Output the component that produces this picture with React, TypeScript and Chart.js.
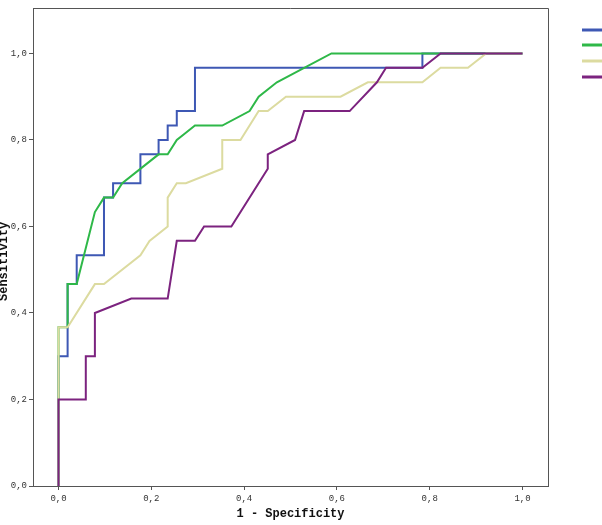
import React, { useEffect, useRef } from "react";
import { Chart, registerables } from "chart.js";

Chart.register(...registerables);

const xTicks = [0, 0.2, 0.4, 0.6, 0.8, 1.0];
const yTicks = [0, 0.2, 0.4, 0.6, 0.8, 1.0];

const seriesNames = ["Marker 1", "Marker 2", "Marker 3", "Marker 4"];
const seriesColors = ["#3e58b4", "#2eb848", "#dcdba0", "#7c237f"];

const blueX = [0, 0, 0.0196, 0.0196, 0.0392, 0.0392, 0.098, 0.098, 0.1176, 0.1176, 0.1765, 0.1765, 0.2157, 0.2157, 0.2353, 0.2353, 0.2549, 0.2549, 0.2941, 0.2941, 0.7843, 0.7843, 1];
const blueY = [0, 0.3, 0.3, 0.4667, 0.4667, 0.5333, 0.5333, 0.6667, 0.6667, 0.7, 0.7, 0.7667, 0.7667, 0.8, 0.8, 0.8333, 0.8333, 0.8667, 0.8667, 0.9667, 0.9667, 1, 1];

const greenX = [0, 0, 0.0196, 0.0196, 0.0392, 0.0784, 0.098, 0.1176, 0.1373, 0.2157, 0.2353, 0.2549, 0.2745, 0.2941, 0.3529, 0.4118, 0.4314, 0.4706, 0.5882, 1];
const greenY = [0, 0.3667, 0.3667, 0.4667, 0.4667, 0.6333, 0.6667, 0.6667, 0.7, 0.7667, 0.7667, 0.8, 0.8167, 0.8333, 0.8333, 0.8667, 0.9, 0.9333, 1, 1];

const yellowX = [0, 0, 0.0196, 0.0784, 0.098, 0.1765, 0.1961, 0.2353, 0.2353, 0.2549, 0.2745, 0.3529, 0.3529, 0.3922, 0.4314, 0.451, 0.4902, 0.6078, 0.6667, 0.7843, 0.8235, 0.8824, 0.9216, 1];
const yellowY = [0, 0.3667, 0.3667, 0.4667, 0.4667, 0.5333, 0.5667, 0.6, 0.6667, 0.7, 0.7, 0.7333, 0.8, 0.8, 0.8667, 0.8667, 0.9, 0.9, 0.9333, 0.9333, 0.9667, 0.9667, 1, 1];

const purpleX = [0, 0, 0.0588, 0.0588, 0.0784, 0.0784, 0.1569, 0.2353, 0.2549, 0.2941, 0.3137, 0.3725, 0.451, 0.451, 0.5098, 0.5294, 0.6275, 0.6863, 0.7059, 0.7843, 0.8235, 1];
const purpleY = [0, 0.2, 0.2, 0.3, 0.3, 0.4, 0.4333, 0.4333, 0.5667, 0.5667, 0.6, 0.6, 0.7333, 0.7667, 0.8, 0.8667, 0.8667, 0.9333, 0.9667, 0.9667, 1, 1];

const seriesX = [blueX, greenX, yellowX, purpleX];
const seriesY = [blueY, greenY, yellowY, purpleY];

const fmt = (v: number) => Number(v).toFixed(1).replace(".", ",");

const framePlugin = {
  id: "frameAndLegend",
  beforeDatasetsDraw(chart: any) {
    const { ctx, chartArea } = chart;
    ctx.save();
    ctx.strokeStyle = "#555";
    ctx.lineWidth = 1;
    ctx.beginPath();
    ctx.moveTo(chartArea.left, chartArea.top + 0.5);
    ctx.lineTo(chartArea.right + 0.5, chartArea.top + 0.5);
    ctx.lineTo(chartArea.right + 0.5, chartArea.bottom);
    ctx.stroke();
    ctx.restore();
  },
  afterDraw(chart: any) {
    const { ctx } = chart;
    ctx.save();
    const ys = [30, 45, 61, 77];
    seriesColors.forEach((c, i) => {
      ctx.strokeStyle = c;
      ctx.lineWidth = 3;
      ctx.beginPath();
      ctx.moveTo(582, ys[i]);
      ctx.lineTo(610, ys[i]);
      ctx.stroke();
    });
    ctx.restore();
  },
};

export default function App() {
  const ref = useRef<HTMLCanvasElement | null>(null);
  useEffect(() => {
    if (!ref.current) return;
    const order = [3, 2, 1, 0];
    const chart = new Chart(ref.current, {
      type: "scatter",
      data: {
        datasets: seriesNames.map((name, i) => ({
          label: name,
          data: seriesX[i].map((x, j) => ({ x, y: seriesY[i][j] })),
          showLine: true,
          borderColor: seriesColors[i],
          backgroundColor: seriesColors[i],
          borderWidth: 2,
          pointRadius: 0,
          tension: 0,
          order: order[i],
        })),
      },
      options: {
        animation: false,
        responsive: false,
        maintainAspectRatio: false,
        layout: { padding: { top: 8, right: 54, left: 0, bottom: 0 } },
        plugins: { legend: { display: false }, tooltip: { enabled: false } },
        scales: {
          x: {
            type: "linear",
            min: -0.055,
            max: 1.055,
            afterBuildTicks: (s: any) => {
              s.ticks = xTicks.map((v) => ({ value: v }));
            },
            afterFit: (s: any) => {
              s.height = 39;
            },
            border: { display: true, color: "#555", width: 1 },
            grid: { display: true, drawOnChartArea: false, drawTicks: true, tickLength: 4, color: "#555" },
            ticks: {
              callback: (v: any) => fmt(v),
              font: { family: "Liberation Mono", size: 9 },
              color: "#333",
              padding: 3,
              maxRotation: 0,
              autoSkip: false,
            },
            title: {
              display: true,
              text: "1 - Specificity",
              font: { family: "Liberation Mono", size: 12, weight: "bold" },
              color: "#111",
              padding: { top: 0, bottom: 4 },
            },
          },
          y: {
            type: "linear",
            min: 0,
            max: 1.105,
            afterBuildTicks: (s: any) => {
              s.ticks = yTicks.map((v) => ({ value: v }));
            },
            afterFit: (s: any) => {
              s.width = 33;
            },
            border: { display: true, color: "#555", width: 1 },
            grid: { display: true, drawOnChartArea: false, drawTicks: true, tickLength: 4, color: "#555" },
            ticks: {
              callback: (v: any) => fmt(v),
              font: { family: "Liberation Mono", size: 9 },
              color: "#333",
              padding: 2,
              autoSkip: false,
            },
            title: {
              display: true,
              text: "Sensitivity    ",
              font: { family: "Liberation Mono", size: 12, weight: "bold" },
              color: "#111",
              padding: { top: -3, bottom: 0 },
            },
          },
        },
      },
      plugins: [framePlugin],
    });
    return () => chart.destroy();
  }, []);
  return (
    <div style={{ position: "fixed", left: 0, top: 0, width: 602, height: 525, background: "#fff" }}>
      <canvas ref={ref} width={602} height={525} style={{ width: 602, height: 525, display: "block" }} />
    </div>
  );
}
